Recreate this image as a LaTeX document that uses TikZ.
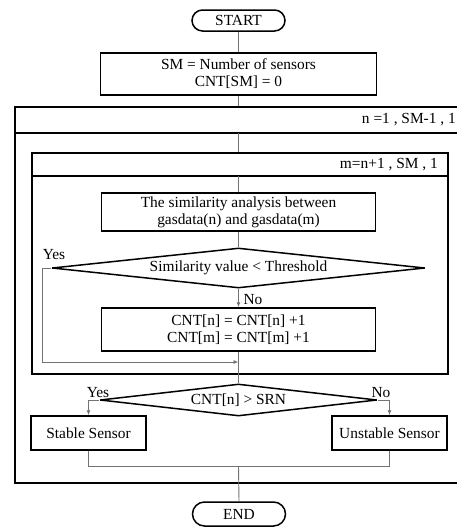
\documentclass[tikz,border=0pt]{standalone}
\usepackage{fontspec}
\setmainfont{Liberation Serif}
\usetikzlibrary{shapes.geometric,shapes.misc,arrows.meta}
\begin{document}
\begin{tikzpicture}[x=1pt,y=-1pt,
  every node/.style={font=\fontsize{15.4}{17}\selectfont, inner sep=0pt},
  boxline/.style={draw=black, line width=1.5pt},
  procbox/.style={boxline, rectangle, align=center},
  termbox/.style={boxline, rounded rectangle},
  decbox/.style={boxline, diamond, aspect=9, line join=bevel},
  conn/.style={draw=black!55, line width=0.9pt},
  arr/.style={conn, -{Latex[length=5pt,width=4pt]}},
  lbl/.style={font=\fontsize{15.4}{17}\selectfont}
]
\useasboundingbox (0,0) rectangle (457,528);

% loops
\node[boxline, rectangle, anchor=north west, minimum width=466pt, minimum height=376pt] (outer) at (14,106) {};
\draw[boxline] (14,133) -- (480,133);
\coordinate (oh) at (238.5,133);
\node[lbl, anchor=east] (outerlbl) at (456,120) {n =1 , SM-1 , 1};

\node[boxline, rectangle, anchor=north west, minimum width=416pt, minimum height=221pt] (inner) at (31,152) {};
\draw[boxline] (31,176) -- (447,176);
\coordinate (ih) at (238.5,176);
\node[lbl, anchor=east] (innerlbl) at (438,164.5) {m=n+1 , SM , 1};

% nodes
\node[termbox, minimum width=93pt, minimum height=21pt] (start) at (238.5,20.5) {START};
\node[procbox, minimum width=276pt, minimum height=42pt] (init) at (238.5,74) {SM = Number of sensors\\CNT[SM] = 0};
\node[procbox, minimum width=274pt, minimum height=38pt] (sim) at (238.5,212) {The similarity analysis between\\gasdata(n) and gasdata(m)};
\node[decbox, minimum width=373pt, minimum height=40pt] (d1) at (238.5,268) {Similarity value < Threshold};
\node[procbox, minimum width=274pt, minimum height=43pt] (cnt) at (238.5,329.5) {CNT[n] = CNT[n] +1\\CNT[m] = CNT[m] +1};
\node[decbox, minimum width=277pt, minimum height=32pt] (d2) at (238.5,400) {CNT[n] > SRN};
\node[procbox, minimum width=115pt, minimum height=34pt] (stable) at (88.5,433) {Stable Sensor};
\node[procbox, minimum width=115pt, minimum height=34pt] (unstable) at (389.5,433) {Unstable Sensor};
\node[termbox, minimum width=93pt, minimum height=24pt] (end) at (239,514) {END};

\coordinate (jn) at (238.5,362);
\coordinate (j2) at (238.5,466);

% labels
\node[lbl] (yes1) at (54,255) {Yes};
\node[lbl] (no1) at (253,300) {No};
\node[lbl] (yes2) at (98,393) {Yes};
\node[lbl] (no2) at (381,393) {No};

% connectors
\draw[conn] (start.south) -- (init.north);
\draw[conn] (init.south) -- (init.south |- outer.north);
\draw[conn] (oh) -- (oh |- inner.north);
\draw[conn] (ih) -- (sim.north);
\draw[conn] (sim.south) -- (d1.north);
\draw[arr] (d1.south) -- (cnt.north);
\draw[arr] (d1.west) -- ++(-9,0) |- (jn);
\draw[conn] (cnt.south) -- (d2.north);
\draw[arr] (d2.west) -| (stable.north);
\draw[arr] (d2.east) -| (unstable.north);
\draw[conn] (stable.south) |- (j2);
\draw[conn] (unstable.south) |- (j2);
\draw[conn] (j2) -- (end.north);
\end{tikzpicture}
\end{document}
